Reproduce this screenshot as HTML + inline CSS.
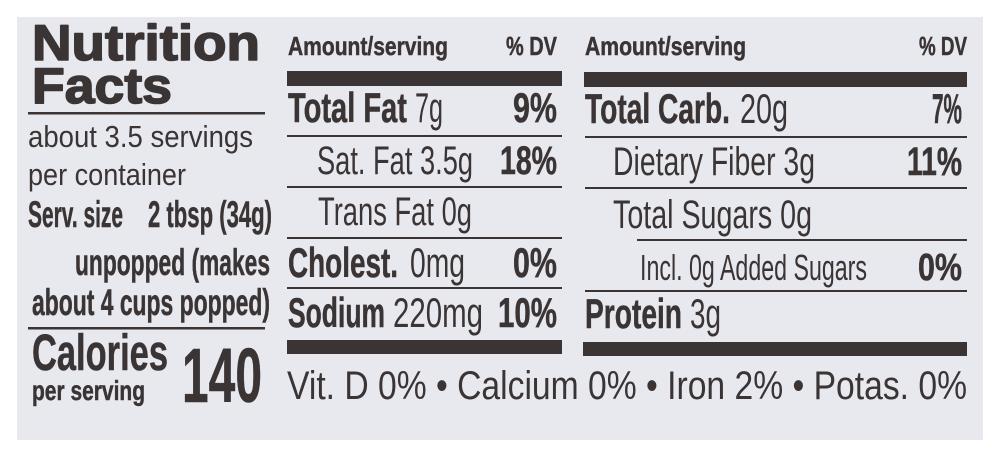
<!DOCTYPE html>
<html>
<head>
<meta charset="utf-8">
<style>
  html, body { margin:0; padding:0; background:#ffffff; }
  svg { display:block; }
  text { font-family: "Liberation Sans", Arial, sans-serif; fill:#3a3435; }
  .b { font-weight:700; stroke:#3a3435; stroke-width:0.5; }
  .h { font-weight:700; stroke:#3a3435; stroke-width:1.6; stroke-linejoin:round; }
  .r { font-weight:400; }
</style>
</head>
<body>
<svg width="1000" height="458" viewBox="0 0 1000 458" xmlns="http://www.w3.org/2000/svg">
  <rect x="0" y="0" width="1000" height="458" fill="#ffffff"/>
  <rect x="17" y="17" width="966" height="423" fill="#e8e9ef"/>

  <!-- Left column -->
  <text class="h" x="32" y="60" font-size="50" textLength="228" lengthAdjust="spacingAndGlyphs">Nutrition</text>
  <text class="h" x="32" y="103" font-size="50" textLength="140" lengthAdjust="spacingAndGlyphs">Facts</text>
  <rect x="28" y="112" width="237" height="2.5" fill="#3a3435"/>

  <text class="r" x="28" y="147" font-size="31" textLength="225" lengthAdjust="spacingAndGlyphs">about 3.5 servings</text>
  <text class="r" x="28" y="185" font-size="31" textLength="158" lengthAdjust="spacingAndGlyphs">per container</text>

  <text class="b" x="28" y="227" font-size="37" textLength="95" lengthAdjust="spacingAndGlyphs">Serv. size</text>
  <text class="b" x="148" y="227" font-size="37" textLength="124" lengthAdjust="spacingAndGlyphs">2 tbsp (34g)</text>
  <text class="b" x="75" y="275" font-size="37" textLength="195" lengthAdjust="spacingAndGlyphs">unpopped (makes</text>
  <text class="b" x="32" y="315" font-size="37" textLength="238" lengthAdjust="spacingAndGlyphs">about 4 cups popped)</text>
  <rect x="28" y="327" width="237" height="2.5" fill="#3a3435"/>

  <text class="b" x="32" y="370" font-size="51" textLength="136" lengthAdjust="spacingAndGlyphs">Calories</text>
  <text class="b" x="32" y="400" font-size="28" textLength="113" lengthAdjust="spacingAndGlyphs">per serving</text>
  <text class="b" x="182" y="402" font-size="77" textLength="80" lengthAdjust="spacingAndGlyphs">140</text>

  <!-- Middle column -->
  <text class="b" x="288" y="55" font-size="26" textLength="160" lengthAdjust="spacingAndGlyphs">Amount/serving</text>
  <text class="b" x="506" y="55" font-size="26" textLength="51" lengthAdjust="spacingAndGlyphs">% DV</text>
  <rect x="287" y="71" width="275" height="15" fill="#3a3435"/>

  <text class="b" x="288" y="122" font-size="42" textLength="119" lengthAdjust="spacingAndGlyphs">Total Fat</text>
  <text class="r" x="415" y="122" font-size="42" textLength="28" lengthAdjust="spacingAndGlyphs">7g</text>
  <text class="b" x="513" y="122" font-size="42" textLength="44" lengthAdjust="spacingAndGlyphs">9%</text>
  <rect x="287" y="135" width="275" height="2" fill="#3a3435"/>

  <text class="r" x="317" y="174" font-size="40" textLength="156" lengthAdjust="spacingAndGlyphs">Sat. Fat 3.5g</text>
  <text class="b" x="500" y="174" font-size="40" textLength="57" lengthAdjust="spacingAndGlyphs">18%</text>
  <rect x="287" y="186" width="275" height="2" fill="#3a3435"/>

  <text class="r" x="318" y="225" font-size="40" textLength="154" lengthAdjust="spacingAndGlyphs">Trans Fat 0g</text>
  <rect x="287" y="237" width="275" height="2" fill="#3a3435"/>

  <text class="b" x="288" y="277" font-size="42" textLength="110" lengthAdjust="spacingAndGlyphs">Cholest.</text>
  <text class="r" x="410" y="277" font-size="42" textLength="55" lengthAdjust="spacingAndGlyphs">0mg</text>
  <text class="b" x="513" y="277" font-size="42" textLength="44" lengthAdjust="spacingAndGlyphs">0%</text>
  <rect x="287" y="287" width="275" height="2" fill="#3a3435"/>

  <text class="b" x="288" y="327" font-size="42" textLength="97" lengthAdjust="spacingAndGlyphs">Sodium</text>
  <text class="r" x="393" y="327" font-size="42" textLength="90" lengthAdjust="spacingAndGlyphs">220mg</text>
  <text class="b" x="498" y="327" font-size="42" textLength="59" lengthAdjust="spacingAndGlyphs">10%</text>
  <rect x="287" y="340" width="275" height="14" fill="#3a3435"/>

  <!-- Right column -->
  <text class="b" x="585" y="55" font-size="26" textLength="161" lengthAdjust="spacingAndGlyphs">Amount/serving</text>
  <text class="b" x="919" y="55" font-size="26" textLength="48" lengthAdjust="spacingAndGlyphs">% DV</text>
  <rect x="584" y="72" width="383" height="15" fill="#3a3435"/>

  <text class="b" x="585" y="123" font-size="42" textLength="145" lengthAdjust="spacingAndGlyphs">Total Carb.</text>
  <text class="r" x="740" y="123" font-size="42" textLength="48" lengthAdjust="spacingAndGlyphs">20g</text>
  <text class="b" x="932" y="123" font-size="42" textLength="30" lengthAdjust="spacingAndGlyphs">7%</text>
  <rect x="585" y="136" width="382" height="2" fill="#3a3435"/>

  <text class="r" x="613" y="175" font-size="40" textLength="202" lengthAdjust="spacingAndGlyphs">Dietary Fiber 3g</text>
  <text class="b" x="907" y="175" font-size="40" textLength="55" lengthAdjust="spacingAndGlyphs">11%</text>
  <rect x="585" y="187" width="382" height="2" fill="#3a3435"/>

  <text class="r" x="613" y="228" font-size="40" textLength="199" lengthAdjust="spacingAndGlyphs">Total Sugars 0g</text>
  <rect x="637" y="239" width="330" height="2" fill="#3a3435"/>

  <text class="r" x="640" y="280" font-size="36" textLength="227" lengthAdjust="spacingAndGlyphs">Incl. 0g Added Sugars</text>
  <text class="b" x="918" y="280" font-size="38" textLength="44" lengthAdjust="spacingAndGlyphs">0%</text>
  <rect x="585" y="290" width="382" height="2" fill="#3a3435"/>

  <text class="b" x="585" y="328" font-size="42" textLength="97" lengthAdjust="spacingAndGlyphs">Protein</text>
  <text class="r" x="690" y="328" font-size="42" textLength="31" lengthAdjust="spacingAndGlyphs">3g</text>
  <rect x="583" y="342" width="384" height="14" fill="#3a3435"/>

  <!-- Vitamins line -->
  <text class="r" x="287" y="399" font-size="40" textLength="680" lengthAdjust="spacingAndGlyphs">Vit. D 0% • Calcium 0% • Iron 2% • Potas. 0%</text>
</svg>
</body>
</html>
